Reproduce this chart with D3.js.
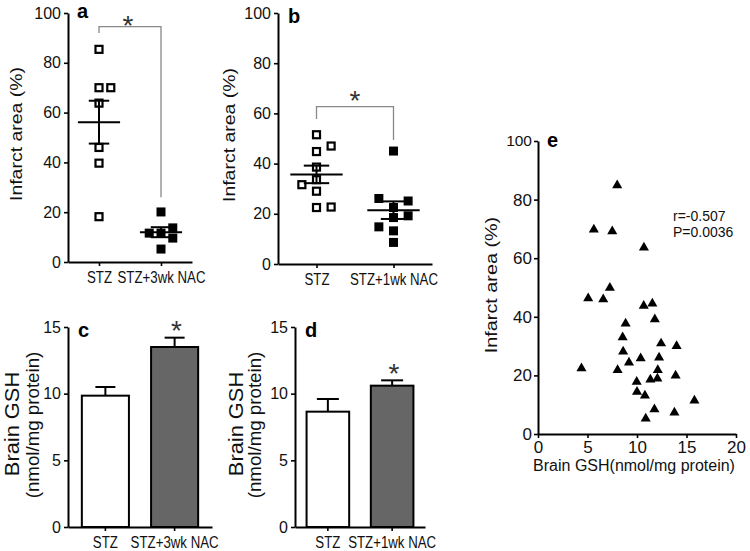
<!DOCTYPE html>
<html>
<head>
<meta charset="utf-8">
<script src="https://cdn.jsdelivr.net/npm/d3@7"></script>
<style>
  body { margin: 0; background: #fff; }
  svg { font-family: "Liberation Sans", Arial, sans-serif; }
</style>
</head>
<body>
<svg width="750" height="551"></svg>
<script>
// panel a: infarct area, STZ vs STZ+3wk NAC
const groupsA = ["STZ", "STZ+3wk NAC"]
const infarctA_STZ = [85.4, 70, 70, 63.8, 46, 39.7, 18.2]
const infarctA_NAC = [20.1, 11.6, 13.7, 11.6, 9.6, 5.2]

// panel b: infarct area, STZ vs STZ+1wk NAC
const groupsB = ["STZ", "STZ+1wk NAC"]
const infarctB_STZ = [51.5, 44.8, 47, 38.6, 29, 33.6, 31.6, 22.5, 22.7]
const infarctB_NAC = [45, 22.5, 25.1, 26.1, 19.2, 18.5, 14.8, 13.2, 8.6]

// panels c, d: brain GSH mean and SEM
const gshC_mean = [9.85, 13.5]
const gshC_sem = [0.65, 0.7]
const gshD_mean = [8.65, 10.6]
const gshD_sem = [0.95, 0.4]

// panel e: brain GSH vs infarct area
const gshE = [8.0, 5.64, 7.5, 10.7, 7.26, 5.07, 6.59, 10.68, 11.55, 11.8, 8.85, 8.55, 12.43, 14.0, 8.6, 10.37,
  12.23, 9.19, 4.39, 8.04, 12.1, 9.97, 11.35, 12.06, 13.9, 10.0, 10.8, 11.76, 13.78, 15.8, 10.88]
const infarctE = [84.9, 69.8, 69.2, 63.6, 49.9, 46.3, 46.0, 43.75, 44.5, 39.1, 37.7, 33.0, 30.9, 30.0, 28.1, 25.8,
  26.1, 24.4, 22.4, 21.8, 21.8, 17.8, 18.6, 18.9, 19.9, 14.4, 13.1, 8.4, 7.3, 11.4, 5.3]
const statsE = ["r=-0.507", "P=0.0036"]

const ticksInfarct = [0, 20, 40, 60, 80, 100]
const ticksGSH = [0, 5, 10, 15]
const ticksGSHx = [0, 5, 10, 15, 20]

const svg = d3.select("svg")
const SQ = 0.78 // labels in the figure are a bit narrow

function styleAxis(g, size) {
  g.select(".domain").attr("stroke-width", 2)
  g.selectAll(".tick line").attr("stroke-width", 1.6)
  g.selectAll(".tick text").attr("font-size", size).attr("fill", "#111")
  g.attr("font-family", null)
}

function leftAxis(x0, y, ticks, size, pad) {
  const g = svg.append("g").attr("transform", `translate(${x0},0)`)
    .call(d3.axisLeft(y).tickValues(ticks).tickSize(4).tickSizeOuter(0).tickPadding(pad))
  styleAxis(g, size)
  return g
}

function catAxis(y0, x) {
  const g = svg.append("g").attr("transform", `translate(0,${y0})`)
    .call(d3.axisBottom(x).tickSize(4).tickSizeOuter(0).tickPadding(5))
  styleAxis(g, 17)
  g.selectAll(".tick text").attr("transform", `scale(${SQ},1)`)
  return g
}

function vLabel(x, y, str, size, stretch) {
  svg.append("text")
    .attr("transform", `translate(${x},${y}) rotate(-90) scale(${stretch},1)`)
    .attr("text-anchor", "middle").attr("font-size", size).attr("fill", "#111")
    .text(str)
}

function panelLabel(x, y, str) {
  svg.append("text").attr("x", x).attr("y", y)
    .attr("font-size", 20).attr("font-weight", "bold").text(str)
}

function star(x, y) {
  svg.append("text").attr("x", x).attr("y", y + 16)
    .attr("text-anchor", "middle").attr("font-size", 28).attr("fill", "#333").text("*")
}

// spread points that would overlap sideways
function dodge(values, y, thresh) {
  const placed = []
  return values.map(v => {
    const py = y(v)
    const hits = lane => placed.some(p => p.lane === lane && Math.abs(p.py - py) < thresh)
    let lane = 0
    if (hits(0)) {
      const nL = placed.filter(p => p.lane < 0).length
      const nR = placed.filter(p => p.lane > 0).length
      const order = nL < nR ? [-1, 1, -2, 2] : [1, -1, 2, -2]
      lane = order.find(l => !hits(l))
    }
    placed.push({ lane, py })
    return { v, lane, py }
  })
}

function dotPlot(x, y, groups, series, bracket) {
  const g = svg.append("g")
  const spacing = x.step() * 0.19
  series.forEach((vals, i) => {
    const cx = x(groups[i])
    const filled = i === 1
    const pts = dodge(vals, y, 10)
    g.selectAll(null).data(pts).enter().append("rect")
      .attr("x", d => cx + d.lane * spacing - (filled ? 4.5 : 3.5))
      .attr("y", d => d.py - (filled ? 4.5 : 3.5))
      .attr("width", filled ? 9 : 7).attr("height", filled ? 9 : 7)
      .attr("fill", filled ? "#000" : "#fff")
      .attr("stroke", filled ? "none" : "#000").attr("stroke-width", 2.2)
  })
  series.forEach((vals, i) => {
    const cx = x(groups[i])
    const m = d3.mean(vals)
    const se = d3.deviation(vals) / Math.sqrt(vals.length)
    const wm = x.step() * 0.34, ws = x.step() * 0.165
    const line = (x1, y1, x2, y2) => g.append("line")
      .attr("x1", x1).attr("y1", y1).attr("x2", x2).attr("y2", y2)
      .attr("stroke", "#000").attr("stroke-width", 2)
    line(cx - wm, y(m), cx + wm, y(m))
    line(cx - ws, y(m + se), cx + ws, y(m + se))
    line(cx - ws, y(m - se), cx + ws, y(m - se))
    line(cx, y(m + se), cx, y(m - se))
  })
  const [top, leftEnd, rightEnd] = bracket
  const x1 = x(groups[0]), x2 = x(groups[1])
  g.append("path")
    .attr("d", `M${x1},${y(leftEnd)}V${y(top)}H${x2}V${y(rightEnd)}`)
    .attr("fill", "none").attr("stroke", "#888").attr("stroke-width", 1.3)
}

function barPlot(x, y, groups, means, sems, capW) {
  const g = svg.append("g")
  groups.forEach((grp, i) => {
    const cx = x(grp) + x.bandwidth() / 2
    g.append("line").attr("x1", cx).attr("x2", cx)
      .attr("y1", y(means[i])).attr("y2", y(means[i] + sems[i]))
      .attr("stroke", "#000").attr("stroke-width", 2)
    g.append("line").attr("x1", cx - capW / 2).attr("x2", cx + capW / 2)
      .attr("y1", y(means[i] + sems[i])).attr("y2", y(means[i] + sems[i]))
      .attr("stroke", "#000").attr("stroke-width", 2)
    g.append("rect")
      .attr("x", x(grp)).attr("y", y(means[i]))
      .attr("width", x.bandwidth()).attr("height", y(0) - y(means[i]))
      .attr("fill", i === 1 ? "#666" : "#fff")
      .attr("stroke", "#000").attr("stroke-width", 2)
  })
}

// ---- panel a
const yA = d3.scaleLinear().domain([0, 100]).range([262, 13])
const xA = d3.scalePoint().domain(groupsA).range([68, 192]).padding(0.5)
dotPlot(xA, yA, groupsA, [infarctA_STZ, infarctA_NAC], [94.5, 92, 26])
leftAxis(68, yA, ticksInfarct, 16, 3)
catAxis(262, xA)
vLabel(22, 134, "Infarct area (%)", 16.5, 1.18)
panelLabel(77, 18, "a")
star(128, 19)

// ---- panel b
const yB = d3.scaleLinear().domain([0, 100]).range([264, 13])
const xB = d3.scalePoint().domain(groupsB).range([278, 432]).padding(0.5)
dotPlot(xB, yB, groupsB, [infarctB_STZ, infarctB_NAC], [62.7, 57.8, 49.4])
leftAxis(278, yB, ticksInfarct, 16, 3)
catAxis(264, xB)
vLabel(235, 135, "Infarct area (%)", 16.5, 1.18)
panelLabel(288, 23, "b")
star(355, 94)

// ---- panel c
const yC = d3.scaleLinear().domain([0, 15]).range([527, 327])
const xC = d3.scaleBand().domain(groupsA).range([68, 212]).paddingInner(0.32).paddingOuter(0.2)
barPlot(xC, yC, groupsA, gshC_mean, gshC_sem, 20)
leftAxis(68, yC, ticksGSH, 16, 3)
catAxis(527, xC)
vLabel(18.5, 424, "Brain GSH", 19.5, 1.12)
vLabel(38.5, 425, "(nmol/mg protein)", 18, 1.04)
panelLabel(78, 337, "c")
star(176.5, 324)

// ---- panel d
const yD = d3.scaleLinear().domain([0, 15]).range([527, 327])
const xD = d3.scaleBand().domain(groupsB).range([295, 425]).paddingInner(0.337).paddingOuter(0.18)
barPlot(xD, yD, groupsB, gshD_mean, gshD_sem, 22)
leftAxis(295, yD, ticksGSH, 16, 3)
catAxis(527, xD)
vLabel(242.5, 424, "Brain GSH", 19.5, 1.12)
vLabel(260.5, 425, "(nmol/mg protein)", 18, 1.04)
panelLabel(305, 337, "d")
star(394, 367)

// ---- panel e
const xE = d3.scaleLinear().domain([0, 20]).range([538, 736])
const yE = d3.scaleLinear().domain([0, 100]).range([434, 141])
const gE = svg.append("g")
gE.selectAll("path").data(gshE).enter().append("path")
  .attr("d", d3.symbol(d3.symbolTriangle, 44))
  .attr("transform", (d, i) => `translate(${xE(d)},${yE(infarctE[i])})`)
  .attr("fill", "#000")
const axEy = leftAxis(538, yE, ticksInfarct, 17, 2)
axEy.selectAll(".tick text").filter(d => d === 100).attr("font-size", 15.5)
const axEx = svg.append("g").attr("transform", "translate(0,434)")
  .call(d3.axisBottom(xE).tickValues(ticksGSHx).tickSize(4).tickSizeOuter(0).tickPadding(3))
styleAxis(axEx, 17)
svg.append("text").attr("x", 634).attr("y", 471).attr("text-anchor", "middle")
  .attr("font-size", 16).attr("fill", "#111").text("Brain GSH(nmol/mg protein)")
vLabel(497, 285, "Infarct area (%)", 16.5, 1.2)
panelLabel(547, 147, "e")
statsE.forEach((s, i) => {
  svg.append("text").attr("x", 673).attr("y", 221 + i * 16)
    .attr("font-size", 14).attr("fill", "#111").text(s)
})
</script>
</body>
</html>
